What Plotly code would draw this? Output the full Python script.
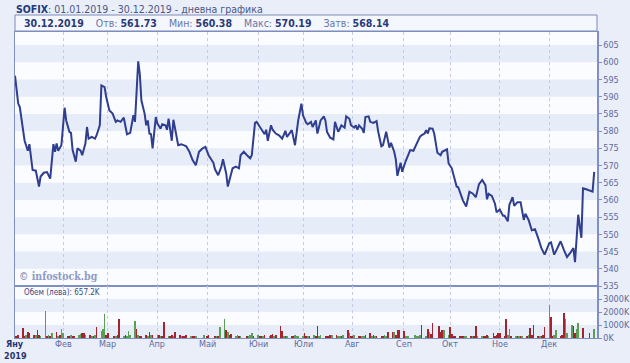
import pandas as pd
import plotly.graph_objects as go

# ---------------- data ----------------
price_dates = [
    "01-02", "01-04", "01-05", "01-07", "01-08", "01-10", "01-11", "01-13", "01-15", "01-17",
    "01-18", "01-20", "01-22", "01-24", "01-26", "01-27", "01-28", "01-29", "01-31",
    "02-02", "02-03", "02-05", "02-06", "02-07", "02-09", "02-10", "02-12", "02-13", "02-15",
    "02-16", "02-17", "02-19", "02-21", "02-22", "02-24", "02-25", "02-27", "02-28",
    "03-02", "03-04", "03-06", "03-07", "03-09", "03-11", "03-13", "03-15", "03-17", "03-18",
    "03-20", "03-21", "03-22", "03-24", "03-25", "03-26", "03-27", "03-28", "03-29", "03-31",
    "04-01", "04-03", "04-04", "04-06", "04-07", "04-08", "04-10", "04-11", "04-12", "04-14",
    "04-16", "04-19", "04-21", "04-23", "04-25", "04-27", "04-29",
    "05-01", "05-03", "05-06", "05-07", "05-09", "05-11", "05-12", "05-14", "05-15", "05-17",
    "05-18", "05-20", "05-22", "05-23", "05-25", "05-27", "05-29", "05-30",
    "06-01", "06-02", "06-04", "06-05", "06-07", "06-08", "06-09", "06-11", "06-12", "06-14",
    "06-16", "06-18", "06-20", "06-21", "06-24", "06-26", "06-28", "06-30",
    "07-01", "07-03", "07-04", "07-06", "07-07", "07-09", "07-10", "07-12", "07-14", "07-15",
    "07-16", "07-18", "07-20", "07-21", "07-23", "07-24", "07-25", "07-27", "07-28", "07-30", "07-31",
    "08-02", "08-03", "08-04", "08-05", "08-07", "08-08", "08-09", "08-11", "08-12", "08-14",
    "08-16", "08-17", "08-19", "08-20", "08-22", "08-24", "08-25", "08-27", "08-28", "08-29", "08-31",
    "09-01", "09-03", "09-05", "09-06", "09-08", "09-10", "09-12", "09-13", "09-15", "09-16",
    "09-17", "09-18", "09-20", "09-21", "09-23", "09-25", "09-26", "09-29", "09-30",
    "10-02", "10-05", "10-06", "10-08", "10-09", "10-11", "10-13", "10-15", "10-17", "10-19",
    "10-21", "10-23", "10-24", "10-25", "10-27", "10-29", "10-30",
    "11-01", "11-03", "11-04", "11-06", "11-07", "11-09", "11-10", "11-12", "11-14", "11-16",
    "11-17", "11-19", "11-21", "11-23", "11-25", "11-27", "11-29",
    "12-02", "12-03", "12-05", "12-07", "12-09", "12-11", "12-13", "12-15", "12-17", "12-18",
    "12-19", "12-20", "12-22", "12-23", "12-25", "12-27", "12-29", "12-30",
]
price_values = [
    596.1, 588.0, 587.0, 579.3, 577.2, 574.3, 576.2, 568.7, 568.5, 563.9,
    566.8, 567.9, 568.1, 566.2, 576.2, 574.0, 576.4, 574.3, 575.9,
    586.8, 583.1, 579.8, 579.5, 574.5, 571.1, 575.0, 574.3, 573.0, 576.4,
    581.2, 577.8, 578.3, 577.8, 578.8, 581.7, 593.3, 592.8, 589.9,
    586.0, 585.1, 582.7, 583.1, 582.7, 583.9, 579.1, 579.5, 584.6, 582.7,
    600.3, 596.6, 588.9, 585.1, 581.7, 583.1, 579.3, 579.1, 575.0, 584.1,
    582.2, 580.7, 582.0, 581.7, 580.4, 583.6, 577.2, 583.3, 580.7, 575.9,
    576.2, 575.6, 574.0, 571.6, 570.1, 574.0, 574.9,
    575.4, 573.0, 570.8, 568.9, 567.2, 569.7, 571.8, 567.7, 563.9, 567.5,
    569.2, 569.7, 569.2, 573.0, 574.0, 573.0, 572.1, 573.0,
    582.4, 582.7, 581.2, 580.4, 579.1, 580.4, 577.2, 581.7, 580.4, 579.3,
    578.8, 577.8, 580.1, 578.3, 580.3, 575.9, 583.1, 588.0,
    584.6, 582.4, 582.0, 582.7, 581.2, 583.1, 579.3, 583.1, 584.3, 583.1,
    579.8, 578.1, 577.6, 582.7, 579.8, 580.7, 581.7, 581.0, 584.3, 583.6, 581.7,
    581.0, 581.7, 580.4, 581.7, 580.7, 579.5, 584.1, 584.3, 582.7, 582.4,
    582.9, 579.8, 575.6, 575.9, 579.8, 575.2, 576.6, 574.0, 571.8, 567.0, 570.8,
    568.2, 571.1, 573.5, 574.5, 574.3, 576.4, 578.3, 578.8, 579.3, 580.3,
    579.3, 580.8, 580.7, 579.3, 573.7, 573.0, 574.0, 574.7, 570.6,
    569.2, 563.9, 563.7, 561.0, 559.8, 558.1, 562.4, 561.9, 560.8, 564.6,
    565.8, 564.3, 560.2, 561.8, 561.2, 558.9, 556.4,
    557.2, 555.4, 555.4, 553.8, 558.6, 560.8, 558.3, 559.3, 559.3, 554.2,
    556.0, 554.2, 551.2, 551.5, 548.9, 546.0, 544.1,
    547.5, 547.7, 544.1, 546.0, 548.0, 545.6, 543.4, 544.6, 546.0, 541.9,
    549.9, 555.7, 549.0, 563.4, 563.1, 562.7, 562.4, 568.14,
]

holidays = ["2019-03-04", "2019-04-26", "2019-04-29", "2019-05-01", "2019-05-06",
            "2019-05-24", "2019-09-06", "2019-09-23", "2019-12-24", "2019-12-25", "2019-12-26"]

# daily turnover in thousands of leva, per trading day of each month; u = up day, d = down day
vol_jan = [150, 120, 200, 740, 180, 230, 435, 360, 250, 200, 590, 230, 150, 2100, 150, 230, 180, 410, 460, 150, 200, 690]
dir_jan = "dddddudddudduudududu" + "du"
vol_feb = [360, 150, 120, 200, 150, 130, 200, 300, 350, 350, 200, 250, 180, 150, 230, 870, 560, 720, 1820, 200]
dir_feb = "uddudduuddudududuuudd"[:20]
vol_mar = [400, 150, 150, 200, 1480, 150, 200, 150, 540, 200, 1280, 690, 200, 180, 150, 200, 180, 440, 250, 230]
dir_mar = "ddudduduuuudud" + "ddudud"
vol_apr = [200, 230, 180, 150, 1200, 150, 120, 200, 150, 460, 200, 150, 130, 150, 200, 150, 180, 150, 120, 200]
dir_apr = "udud" + "dudduddudddudduu"
vol_may = [150, 200, 150, 180, 150, 870, 1480, 615, 490, 200, 300, 150, 200, 150, 130, 150, 120, 200, 350, 150]
dir_may = "ddduduudud" + "duududuuud"
vol_jun = [200, 150, 180, 150, 200, 150, 200, 300, 150, 200, 920, 560, 150, 180, 150, 120, 150, 200, 150, 180]
dir_jun = "uddududdud" + "ddududduuu"
vol_jul = [150, 380, 150, 130, 150, 200, 150, 920, 150, 200, 150, 130, 120, 200, 230, 200, 150, 180, 150, 200, 615, 410, 150]
dir_jul = "uddudud" + "duudddduduudududdu"[:16]
vol_aug = [150, 200, 150, 120, 180, 150, 200, 410, 150, 200, 150, 180, 120, 150, 200, 180, 460, 460, 460, 250, 615, 615]
dir_aug = "dudduud" + "dududdduuddudddd"[:15]
vol_sep = [560, 150, 120, 150, 200, 150, 120, 200, 970, 150, 665, 460, 300, 1125, 920, 460, 615, 615, 200]
dir_sep = "duuuuuuudud" + "uddddduud"[:8]
vol_oct = [820, 300, 150, 120, 150, 130, 150, 120, 150, 180, 150, 120, 920, 150, 150, 120, 180, 250, 150, 410, 150, 200, 410]
dir_oct = "ddddddduudud" + "duudddudddd"
vol_nov = [410, 150, 1480, 200, 665, 150, 150, 120, 150, 180, 120, 150, 200, 770, 200, 1020, 150, 120, 150, 200, 870]
dir_nov = "dddu" + "udududududdddudddu"[:17]
vol_dec = [2560, 1640, 150, 200, 615, 150, 200, 1900, 1480, 360, 1020, 920, 360, 665, 1180, 770, 360, 657.2]
dir_dec = "udduuddduuudduuddu"[:18]

month_ticks = ["2019-01-02", "2019-02-01", "2019-03-01", "2019-04-01", "2019-05-02", "2019-06-03",
               "2019-07-01", "2019-08-01", "2019-09-02", "2019-10-01", "2019-11-01", "2019-12-02"]
month_labels = ["Яну", "Фев", "Мар", "Апр", "Май", "Юни", "Юли", "Авг", "Сеп", "Окт", "Ное", "Дек"]

price_ticks = list(range(535, 606, 5))
vol_ticks = [0, 1000, 2000, 3000]
vol_tick_labels = ["0K", "1000K", "2000K", "3000K"]

# ---------------- build ----------------
W, H = 630, 363
px = lambda v: v / W
py = lambda v: (H - v) / H

p_dates = pd.to_datetime(["2019-" + d for d in price_dates])

vol_months = [vol_jan, vol_feb, vol_mar, vol_apr, vol_may, vol_jun,
              vol_jul, vol_aug, vol_sep, vol_oct, vol_nov, vol_dec]
dir_months = [dir_jan, dir_feb, dir_mar, dir_apr, dir_may, dir_jun,
              dir_jul, dir_aug, dir_sep, dir_oct, dir_nov, dir_dec]
hol = set(pd.to_datetime(holidays))
v_dates, v_vals, v_cols = [], [], []
for m, (vals, dirs) in enumerate(zip(vol_months, dir_months), start=1):
    days = [d for d in pd.bdate_range(f"2019-{m:02d}-01", periods=23, freq="B")
            if d.month == m and d not in hol and d >= pd.Timestamp("2019-01-02")
            and d <= pd.Timestamp("2019-12-30")]
    for i, (d, v) in enumerate(zip(days, vals)):
        v_dates.append(d)
        v_vals.append(v)
        c = dirs[i] if i < len(dirs) else "d"
        v_cols.append("#5c9e58" if c == "u" else "#a3242e")

AX = "#8190c2"
TXT = "#5d6b9c"
FONT = "DejaVu Sans Condensed, Liberation Sans, sans-serif"

fig = go.Figure()
fig.add_trace(go.Scatter(x=p_dates, y=price_values, mode="lines",
                         line=dict(color="#2f3e8e", width=2), xaxis="x", yaxis="y",
                         hoverinfo="skip", showlegend=False))
fig.add_trace(go.Bar(x=v_dates, y=v_vals, marker=dict(color=v_cols, line=dict(width=0)),
                     width=86400000 * 1.1, xaxis="x2", yaxis="y2",
                     hoverinfo="skip", showlegend=False))

xrange = ["2019-01-02", "2019-12-31 18:00"]
main_dom = [py(286), py(32)]
vol_dom = [py(338), py(286)]
xdom = [px(15), px(597)]

shapes = []
for lo in range(540, 605, 10):
    shapes.append(dict(type="rect", xref="x domain", yref="y", x0=0, x1=1, y0=lo, y1=lo + 5,
                       fillcolor="#e7ecf9", line=dict(width=0), layer="below"))
for lo in [0, 2000]:
    shapes.append(dict(type="rect", xref="x2 domain", yref="y2", x0=0, x1=1, y0=lo, y1=lo + 1000,
                       fillcolor="#e7ecf9", line=dict(width=0), layer="below"))
# header box
shapes.append(dict(type="rect", xref="paper", yref="paper", x0=px(15), x1=px(597),
                   y0=py(31), y1=py(15), fillcolor="#f4f7fd", line=dict(color="#7d89b8", width=1)))

fig.update_layout(
    width=W, height=H,
    margin=dict(l=0, r=0, t=0, b=0, pad=0, autoexpand=False),
    paper_bgcolor="#e9eef9",
    plot_bgcolor="#fbfcff",
    font=dict(family=FONT, size=9, color=TXT),
    bargap=0,
    shapes=shapes,
    xaxis=dict(domain=xdom, anchor="y", type="date", range=xrange, automargin=False,
               showticklabels=False, ticks="",
               showgrid=True, gridcolor="#c3cbe6", griddash="dot", gridwidth=1,
               tickvals=month_ticks,
               showline=True, linecolor=AX, linewidth=1, mirror=True, zeroline=False),
    yaxis=dict(domain=main_dom, anchor="x", side="right", range=[535, 608.8], automargin=False,
               tickvals=price_ticks, ticks="outside", ticklen=3, tickcolor=AX,
               showgrid=False, zeroline=False,
               showline=True, linecolor=AX, linewidth=1.5, mirror=True,
               tickfont=dict(size=9, color=TXT, family=FONT)),
    xaxis2=dict(domain=xdom, anchor="y2", type="date", range=xrange, matches="x", automargin=False,
                tickvals=month_ticks, showticklabels=False, ticks="",
                showgrid=True, gridcolor="#c3cbe6", griddash="dot", gridwidth=1,
                showline=True, linecolor=AX, linewidth=1, mirror=True, zeroline=False),
    yaxis2=dict(domain=vol_dom, anchor="x2", side="right", range=[0, 4000], automargin=False,
                tickvals=vol_ticks, ticktext=vol_tick_labels, ticks="outside", ticklen=3,
                tickcolor=AX, showgrid=False, zeroline=False,
                showline=True, linecolor=AX, linewidth=1.5, mirror=True,
                tickfont=dict(size=9, color=TXT, family=FONT)),
)

ann = []
for i, (d, lab) in enumerate(zip(month_ticks, month_labels)):
    if i == 0:
        ann.append(dict(xref="x2", yref="paper", x=d, y=py(344), xanchor="center", yanchor="middle",
                        showarrow=False, text="<b>%s</b>" % lab,
                        font=dict(family=FONT, size=9, color="#27336b")))
    else:
        ann.append(dict(xref="x2", yref="paper", x=d, y=py(344), xanchor="center", yanchor="middle",
                        showarrow=False, text=lab, font=dict(family=FONT, size=9, color=TXT)))
ann.append(dict(xref="paper", yref="paper", x=px(15), y=py(356), xanchor="center", yanchor="middle",
                showarrow=False, text="<b>2019</b>",
                font=dict(family=FONT, size=9, color="#27336b")))
ann.append(dict(xref="paper", yref="paper", x=px(14), y=py(9), xanchor="left", yanchor="middle",
                showarrow=False,
                text='<span style="color:#233a7c"><b>SOFIX</b></span>: 01.01.2019 - 30.12.2019 - дневна графика',
                font=dict(family=FONT, size=10.5, color="#4b5886")))
B = '<span style="color:#2a3a78"><b>%s</b></span>'
hdr = (B % "30.12.2019") + "    Отв: " + (B % "561.73") + "    Мин: " + (B % "560.38") + \
      "    Макс: " + (B % "570.19") + "    Затв: " + (B % "568.14")
ann.append(dict(xref="paper", yref="paper", x=px(22), y=py(23), xanchor="left", yanchor="middle",
                showarrow=False, text=hdr, font=dict(family=FONT, size=10.5, color="#6b75a3")))
ann.append(dict(xref="paper", yref="paper", x=px(17), y=py(276), xanchor="left", yanchor="middle",
                showarrow=False, text="<b>© infostock.bg</b>",
                font=dict(family="DejaVu Serif Condensed, Liberation Serif, serif", size=10.5, color="#8d9ac6")))
ann.append(dict(xref="paper", yref="paper", x=px(22), y=py(292), xanchor="left", yanchor="middle",
                showarrow=False, text="Обем (лева): 657.2K",
                font=dict(family=FONT, size=8, color="#3a4880")))
fig.update_layout(annotations=ann)

fig.write_html("out.html", config={"displayModeBar": False, "staticPlot": True},
               post_script="document.body.style.margin='0';document.body.style.padding='0';"
                           "document.body.style.overflow='hidden';")
